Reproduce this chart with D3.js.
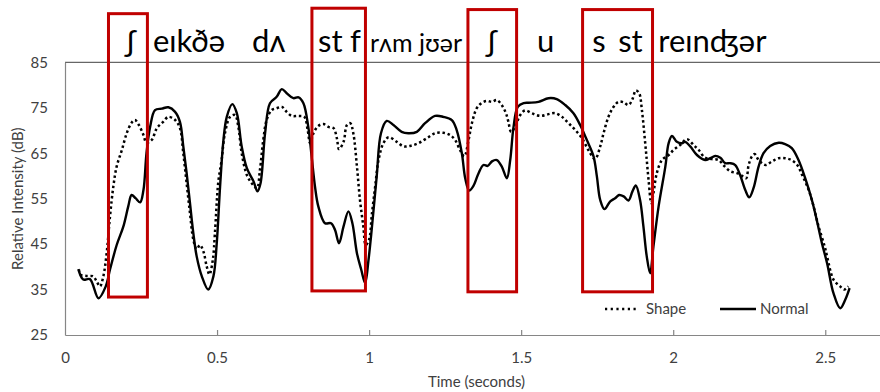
<!DOCTYPE html>
<html><head><meta charset="utf-8">
<script src="https://cdn.jsdelivr.net/npm/d3@7"></script>
<style>
html,body{margin:0;padding:0;background:#fff;}
svg text{font-family:Lato,"Noto Sans","DejaVu Sans",sans-serif;}
</style></head>
<body>
<svg id="chart" width="880" height="392"></svg>
<script>
// ---- data ----
const normalTime = [0.044,0.060,0.082,0.110,0.134,0.148,0.170,0.192,0.208,0.219,0.232,0.247,0.258,0.268,0.280,0.296,0.318,0.340,0.362,0.378,0.389,0.400,0.411,0.422,0.433,0.450,0.471,0.488,0.499,0.510,0.521,0.532,0.550,0.565,0.581,0.598,0.620,0.633,0.643,0.658,0.674,0.696,0.713,0.729,0.751,0.768,0.784,0.800,0.811,0.822,0.833,0.855,0.875,0.888,0.901,0.916,0.932,0.945,0.960,0.974,0.987,0.998,1.009,1.025,1.039,1.058,1.080,1.107,1.129,1.157,1.184,1.217,1.244,1.272,1.288,1.305,1.316,1.329,1.343,1.360,1.376,1.390,1.404,1.420,1.436,1.453,1.464,1.475,1.489,1.508,1.524,1.557,1.590,1.617,1.645,1.672,1.694,1.716,1.738,1.749,1.760,1.774,1.793,1.809,1.822,1.837,1.853,1.866,1.877,1.891,1.902,1.913,1.924,1.935,1.952,1.974,1.985,1.996,2.012,2.029,2.039,2.056,2.078,2.105,2.122,2.138,2.155,2.171,2.188,2.204,2.220,2.237,2.250,2.264,2.281,2.297,2.319,2.347,2.368,2.390,2.412,2.434,2.456,2.472,2.489,2.506,2.527,2.549,2.566,2.580];
const normalDb = [39.5,37.2,37.3,33.1,35.7,39.4,44.8,48.9,53.3,55.8,55.1,54.2,56.9,65.0,70.8,74.5,74.8,75.1,74.1,71.9,66.5,60.6,54.0,47.4,42.3,37.9,35.0,37.9,45.2,57.7,67.9,73.0,75.8,73.8,66.5,61.7,58.8,56.6,58.4,69.4,76.0,77.4,79.1,78.2,77.1,77.3,76.0,70.8,64.3,57.7,53.3,49.6,49.6,48.1,45.2,48.9,52.2,49.6,43.0,39.4,36.4,41.5,48.5,59.9,69.4,72.1,71.2,69.7,69.4,69.7,71.6,73.2,73.0,72.3,70.1,65.0,59.5,56.8,57.8,60.6,62.4,62.2,63.2,63.5,62.1,59.5,63.5,70.8,75.2,76.0,76.1,76.3,77.1,76.9,75.6,73.8,71.2,67.9,64.3,59.9,54.7,52.7,54.4,55.1,55.8,55.5,54.6,56.6,57.9,54.7,48.9,42.3,38.6,44.5,53.3,62.0,67.2,68.8,67.5,67.2,67.5,66.5,64.6,63.5,63.9,64.4,64.0,62.8,62.8,62.4,60.2,56.9,55.3,57.3,62.1,65.0,66.6,67.3,67.0,66.1,63.5,59.5,54.7,50.3,45.2,40.8,34.2,30.9,32.8,35.3];

const shapeTime = [0.046,0.050,0.071,0.093,0.104,0.115,0.126,0.137,0.148,0.159,0.170,0.187,0.203,0.219,0.230,0.243,0.258,0.268,0.285,0.302,0.323,0.340,0.362,0.378,0.389,0.400,0.411,0.422,0.433,0.444,0.455,0.466,0.475,0.486,0.493,0.504,0.515,0.526,0.543,0.559,0.570,0.581,0.598,0.614,0.631,0.641,0.652,0.663,0.680,0.696,0.713,0.729,0.746,0.768,0.787,0.798,0.806,0.817,0.833,0.850,0.866,0.883,0.894,0.901,0.916,0.927,0.938,0.948,0.960,0.970,0.981,0.989,1.000,1.009,1.020,1.031,1.047,1.064,1.091,1.113,1.135,1.162,1.190,1.217,1.244,1.266,1.283,1.299,1.313,1.327,1.338,1.354,1.371,1.387,1.404,1.420,1.436,1.450,1.458,1.467,1.480,1.497,1.513,1.535,1.563,1.590,1.612,1.634,1.656,1.678,1.700,1.721,1.743,1.760,1.771,1.787,1.804,1.820,1.837,1.853,1.866,1.877,1.888,1.897,1.906,1.913,1.919,1.928,1.935,1.946,1.963,1.985,2.001,2.023,2.045,2.067,2.084,2.103,2.127,2.149,2.169,2.188,2.210,2.229,2.240,2.248,2.259,2.268,2.281,2.303,2.325,2.347,2.368,2.388,2.408,2.424,2.441,2.456,2.478,2.498,2.506,2.527,2.549,2.563,2.576];
const shapeDb = [39.4,38.3,38.0,37.9,36.8,35.7,37.9,43.0,51.1,57.7,62.1,65.7,69.4,71.7,72.3,71.2,69.0,67.3,67.9,70.5,71.9,73.0,72.3,70.5,65.0,58.4,51.8,46.0,43.9,44.8,43.4,40.1,38.3,41.5,47.4,58.6,63.5,69.4,73.0,73.4,70.8,65.0,60.2,58.4,57.3,61.3,67.9,72.3,74.5,74.9,75.2,74.1,73.2,73.2,73.0,70.1,67.2,69.4,71.0,71.4,70.8,70.5,68.3,65.9,67.5,71.2,71.6,69.4,62.1,54.7,48.9,44.8,46.0,51.5,57.7,63.5,67.2,68.5,67.5,66.5,66.6,67.2,68.3,69.4,69.5,69.0,67.9,65.7,64.3,67.9,71.6,74.9,76.1,76.5,76.3,76.7,75.6,73.8,71.9,69.7,70.8,73.4,74.4,73.8,73.2,73.6,73.8,73.0,71.6,70.1,68.3,65.7,63.7,66.5,69.4,73.0,75.2,76.3,76.2,75.6,76.9,78.8,78.2,74.5,68.6,63.5,59.1,54.0,56.2,60.6,63.5,64.6,65.7,66.8,68.1,66.8,65.7,64.1,63.7,63.5,62.1,61.0,60.6,59.9,59.5,62.4,64.3,64.8,63.5,62.4,63.2,63.9,63.9,63.5,62.4,60.2,57.7,54.7,48.9,44.5,42.3,37.2,35.7,35.0,35.7];

const xTicks = [0, 0.5, 1, 1.5, 2, 2.5];
const yTicks = [25, 35, 45, 55, 65, 75, 85];
const xTickLabels = ["0", "0.5", "1", "1.5", "2", "2.5"];

// highlighted segments (time in s, dB)
const boxStart = [0.143, 0.812, 1.325, 1.702];
const boxEnd   = [0.271, 0.988, 1.485, 1.932];
const boxBottom = [33.35, 34.7, 34.5, 34.5];
const boxTop    = [95.7, 96.9, 96.6, 96.6];

// transcription labels
const ipaText = ["ʃ", "eɪkðə", "dʌ", "st", "f", "rʌm jʊər", "ʃ", "u", "s", "st", "reɪnʤər"];
const ipaTime = [0.204, 0.289, 0.615, 0.832, 0.937, 1.003, 1.391, 1.552, 1.734, 1.819, 1.951];
const ipaSmall = [false, false, false, false, false, true, false, false, false, false, false];

const seriesNames = ["Shape", "Normal"];
const xTitle = "Time (seconds)";
const yTitle = "Relative Intensity (dB)";

// ---- layout ----
const L = 65, R = 880, T = 62.3, B = 335;
const x = d3.scaleLinear().domain([0, 2.68]).range([L, R]);
const y = d3.scaleLinear().domain([25, 85]).range([B, T]);
const FS = 15;

const svg = d3.select("#chart");

// plot frame top
svg.append("line").attr("x1", L).attr("x2", R).attr("y1", T).attr("y2", T)
  .attr("stroke", "#404040").attr("stroke-width", 1);

// y axis
const yAxis = d3.axisLeft(y).tickValues(yTicks).tickSize(0).tickPadding(17);
const gy = svg.append("g").attr("transform", `translate(${L},0)`).call(yAxis);
gy.select(".domain").attr("stroke", "#868686").attr("stroke-width", 1.2);
gy.selectAll("text").attr("font-size", FS).attr("fill", "#404040")
  .style("font-family", "Lato, 'Noto Sans', sans-serif");

// x axis
const xAxis = d3.axisBottom(x).tickValues(xTicks).tickFormat((d, i) => xTickLabels[i])
  .tickSizeInner(-5).tickSizeOuter(0).tickPadding(17);
const gx = svg.append("g").attr("transform", `translate(0,${B})`).call(xAxis);
gx.select(".domain").attr("stroke", "#868686").attr("stroke-width", 1.2);
gx.selectAll(".tick line").attr("stroke", "#868686").attr("stroke-width", 1.2);
gx.selectAll(".tick").filter(d => d === 0).select("line").remove();
gx.selectAll("text").attr("font-size", FS).attr("fill", "#404040")
  .style("font-family", "Lato, 'Noto Sans', sans-serif");

// axis titles
svg.append("text").attr("x", (L + R) / 2 + 4).attr("y", 387)
  .attr("text-anchor", "middle").attr("font-size", FS).attr("fill", "#404040").text(xTitle);
svg.append("text").attr("transform", `translate(23,${(T + B) / 2}) rotate(-90)`)
  .attr("text-anchor", "middle").attr("font-size", FS).attr("fill", "#404040").text(yTitle);

// lines
const line = d3.line().x(d => x(d[0])).y(d => y(d[1])).curve(d3.curveCatmullRom.alpha(0.5));
const shapeData = shapeTime.map((t, i) => [t, shapeDb[i]]);
const normalData = normalTime.map((t, i) => [t, normalDb[i]]);

svg.append("path").datum(shapeData).attr("d", line)
  .attr("fill", "none").attr("stroke", "#000").attr("stroke-width", 2.5)
  .attr("stroke-dasharray", "2.5 2.7");
svg.append("path").datum(normalData).attr("d", line)
  .attr("fill", "none").attr("stroke", "#000").attr("stroke-width", 2.4)
  .attr("stroke-linejoin", "round");

// red boxes
boxStart.forEach((s, i) => {
  svg.append("rect")
    .attr("x", x(s)).attr("y", y(boxTop[i]))
    .attr("width", x(boxEnd[i]) - x(s))
    .attr("height", y(boxBottom[i]) - y(boxTop[i]))
    .attr("fill", "none").attr("stroke", "#c00000").attr("stroke-width", 3);
});

// IPA text
ipaText.forEach((txt, i) => {
  svg.append("text").attr("x", x(ipaTime[i])).attr("y", 52)
    .attr("font-size", ipaSmall[i] ? 25 : 31).attr("fill", "#000")
    .text(txt);
});

// legend
const lg = svg.append("g");
lg.append("line").attr("x1", 605).attr("x2", 639).attr("y1", 309).attr("y2", 309)
  .attr("stroke", "#000").attr("stroke-width", 2.5).attr("stroke-dasharray", "2.2 3.5");
lg.append("text").attr("x", 646).attr("y", 314).attr("font-size", FS).attr("fill", "#404040").text(seriesNames[0]);
lg.append("line").attr("x1", 720).attr("x2", 756).attr("y1", 309).attr("y2", 309)
  .attr("stroke", "#000").attr("stroke-width", 2.5);
lg.append("text").attr("x", 760).attr("y", 314).attr("font-size", FS).attr("fill", "#404040").text(seriesNames[1]);
</script>
</body></html>
